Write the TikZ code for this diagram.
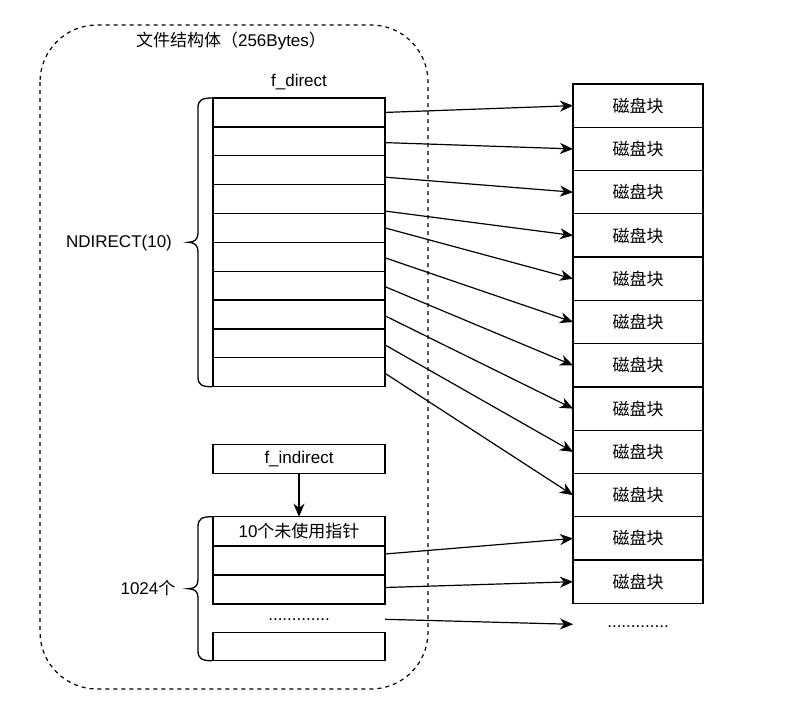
\documentclass[tikz,border=0pt]{standalone}
\usepackage{fontspec}
\setmainfont{Liberation Sans}
\newfontfamily\cjk{Noto Sans CJK SC}
\usetikzlibrary{arrows.meta,calc}
\begin{document}
\begin{tikzpicture}[x=1pt,y=-1pt,
  font=\fontsize{17}{20}\selectfont,
  cell/.style={minimum width=172pt, minimum height=28.87pt, inner sep=0pt, outer sep=0pt},
  blk/.style={draw, line width=1.3pt, minimum width=130pt, minimum height=43.28pt, inner sep=0pt, outer sep=0pt},
  arr/.style={-{Stealth[length=13pt,width=11pt,inset=4pt]}, line width=1.2pt},
  ln/.style={line width=1.3pt},
  lbl/.style={inner sep=0pt}]
\useasboundingbox (0,0) rectangle (789,712);
% outer dashed container
\draw[line width=1.2pt, dash pattern=on 4pt off 4pt, rounded corners=57pt] (40,25) rectangle (428,689);
\node[lbl] (title) at (231,41) {{\cjk 文件结构体（}256Bytes{\cjk ）}};
% direct table
\node[lbl] (fdirect) at (299,82) {f\_direct};
\foreach \i in {1,...,10}
  \node[cell] (d\i) at (299,{98+28.87*(\i-0.5)}) {};
\draw[ln] (d1.north west) rectangle (d10.south east);
\foreach \i in {1,...,9}
  \draw[ln] (d\i.south west) -- (d\i.south east);
% disk blocks
\foreach \j in {1,...,12}
  \node[blk] (b\j) at (638,{84+43.28*(\j-0.5)}) {\cjk 磁盘块};
\node[lbl] (bdots) at (638,627) {.............};
% direct arrows
\foreach \i/\s in {1/0,2/1.3,3/7,4/12,5/0,6/1,7/1,8/1.3,9/1.5,10/1}
  \draw[arr] ($(d\i.east)+(0,\s)$) -- (b\i.west);
% brace NDIRECT
\draw[ln] (212,98) .. controls (202,98) and (198,100) .. (198,108) -- (198,233)
  .. controls (198,239) and (195,242.3) .. (188,242.3)
  .. controls (195,242.3) and (198,245.5) .. (198,252) -- (198,377)
  .. controls (198,385) and (202,386.7) .. (212,386.7);
\node[lbl] (ndirect) at (119,243) {NDIRECT(10)};
% indirect
\node[cell, draw, ln, minimum height=29pt] (find) at (299,459) {f\_indirect};
\node[cell, minimum height=29.3pt] (i1) at (299,531.4) {10{\cjk 个未使用指针}};
\node[cell, minimum height=29pt] (i2) at (299,560.5) {};
\node[cell, minimum height=29pt] (i3) at (299,589.5) {};
\draw[ln] (i1.north west) rectangle (i3.south east);
\draw[ln] (i1.south west) -- (i1.south east);
\draw[ln] (i2.south west) -- (i2.south east);
\node[lbl] (idots) at (299,620) {.............};
\node[cell, draw, ln, minimum height=28.4pt] (i4) at (299,646.5) {};
\draw[arr] (find.south) -- (i1.north);
\draw[arr] ($(i2.east)+(0,-6.5)$) -- (b11.west);
\draw[arr] ($(i3.east)+(0,-2)$) -- (b12.west);
\coordinate (s3) at (385,619.3);
\coordinate (e3) at (573,624.3);
\draw[arr] (s3) -- (e3);
% brace 1024
\draw[ln] (212,516.7) .. controls (202,516.7) and (198,518.7) .. (198,526.7) -- (198,579.7)
  .. controls (198,585.7) and (195,588.7) .. (188,588.7)
  .. controls (195,588.7) and (198,591.7) .. (198,597.7) -- (198,650.7)
  .. controls (198,658.7) and (202,660.7) .. (212,660.7);
\node[lbl] (n1024) at (148,588) {1024{\cjk 个}};
\end{tikzpicture}
\end{document}
